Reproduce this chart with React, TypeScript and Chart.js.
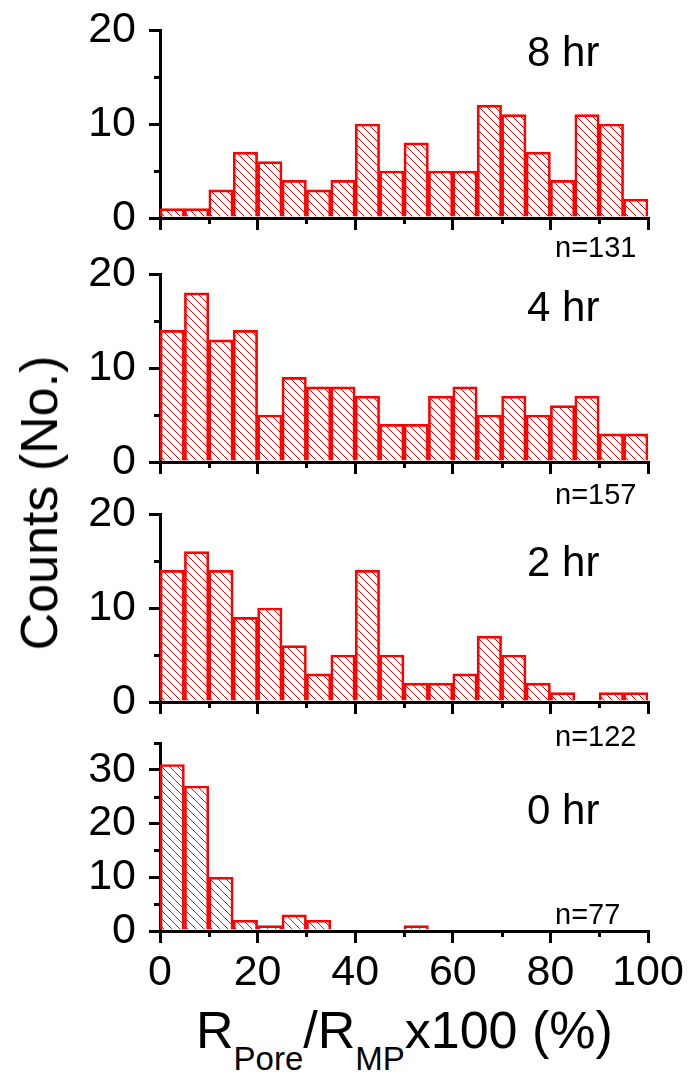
import React, { useEffect, useRef } from 'react';
import { Chart, registerables } from 'chart.js';

Chart.register(...registerables);

// ---- Data ----
const binCenters = [2.5, 7.5, 12.5, 17.5, 22.5, 27.5, 32.5, 37.5, 42.5, 47.5, 52.5, 57.5, 62.5, 67.5, 72.5, 77.5, 82.5, 87.5, 92.5, 97.5];
const counts8hr = [1, 1, 3, 7, 6, 4, 3, 4, 10, 5, 8, 5, 5, 12, 11, 7, 4, 11, 10, 2];
const counts4hr = [14, 18, 13, 14, 5, 9, 8, 8, 7, 4, 4, 7, 8, 5, 7, 5, 6, 7, 3, 3];
const counts2hr = [14, 16, 14, 9, 10, 6, 3, 5, 14, 5, 2, 2, 3, 7, 5, 2, 1, 0, 1, 1];
const counts0hr = [31, 27, 10, 2, 1, 3, 2, 0, 0, 0, 1, 0, 0, 0, 0, 0, 0, 0, 0, 0];

const xMajorTicks = [0, 20, 40, 60, 80, 100];
const xMinorTicks = [10, 30, 50, 70, 90];
const yMajorTicks20 = [0, 10, 20];
const yMinorTicks20 = [5, 15];
const yMajorTicks35 = [0, 10, 20, 30];
const yMinorTicks35 = [5, 15, 25, 35];

const panelLabels = ['8 hr', '4 hr', '2 hr', '0 hr'];
const sampleSizes = ['n=131', 'n=157', 'n=122', 'n=77'];
const yAxisTitle = 'Counts (No.)';

const FONT = "'Liberation Sans', Arial, Helvetica, sans-serif";
const RED = '#ff0000';

let hatchTile: HTMLCanvasElement | null = null;
function getHatchTile(): HTMLCanvasElement {
  if (hatchTile) return hatchTile;
  const s = 8;
  const c = document.createElement('canvas');
  c.width = s;
  c.height = s;
  const g = c.getContext('2d');
  if (g) {
    g.fillStyle = RED;
    for (let i = 0; i < s; i++) g.fillRect(i, i, 1, 1);
  }
  hatchTile = c;
  return c;
}

const minorTicksPlugin = {
  id: 'minorTicks',
  afterDraw(chart: any, _args: any, opts: any) {
    const ctx = chart.ctx;
    const xs = chart.scales.x;
    const ys = chart.scales.y;
    const area = chart.chartArea;
    ctx.save();
    ctx.strokeStyle = '#000';
    ctx.lineWidth = 3;
    ctx.beginPath();
    for (const v of opts.yMinor || []) {
      const py = Math.round(ys.getPixelForValue(v)) + 0.5;
      ctx.moveTo(area.left - 6, py);
      ctx.lineTo(area.left, py);
    }
    for (const v of opts.xMinor || []) {
      const px = Math.round(xs.getPixelForValue(v)) + 0.5;
      ctx.moveTo(px, area.bottom);
      ctx.lineTo(px, area.bottom + 6);
    }
    ctx.stroke();
    ctx.restore();
  },
};

type PanelProps = {
  values: number[];
  yMax: number;
  yMajor: number[];
  yMinor: number[];
  showXLabels: boolean;
  top: number;
  height: number;
  padTop: number;
  xHeight: number;
};

function Panel(p: PanelProps) {
  const ref = useRef<HTMLCanvasElement | null>(null);
  useEffect(() => {
    const canvas = ref.current;
    if (!canvas) return;
    const ctx = canvas.getContext('2d');
    const hatch = (ctx && ctx.createPattern(getHatchTile(), 'repeat')) || RED;
    const chart = new Chart(canvas, {
      type: 'bar',
      data: {
        datasets: [
          {
            data: binCenters.map((x, i) => ({ x, y: p.values[i] })),
            backgroundColor: hatch as any,
            hoverBackgroundColor: hatch as any,
            borderColor: RED,
            hoverBorderColor: RED,
            borderWidth: 2,
            borderSkipped: 'start',
            barPercentage: 1,
            categoryPercentage: 1,
          } as any,
        ],
      },
      options: {
        animation: false,
        responsive: false,
        maintainAspectRatio: false,
        events: [],
        layout: { padding: { top: p.padTop, left: 0, right: 41, bottom: 0 } },
        plugins: {
          legend: { display: false },
          tooltip: { enabled: false },
          minorTicks: { xMinor: xMinorTicks, yMinor: p.yMinor },
        } as any,
        scales: {
          x: {
            type: 'linear',
            min: 0,
            max: 100,
            offset: false,
            z: 1,
            afterBuildTicks: (s: any) => {
              s.ticks = xMajorTicks.map((v) => ({ value: v }));
            },
            afterFit: (s: any) => {
              s.height = p.xHeight;
            },
            grid: {
              display: true,
              drawOnChartArea: false,
              drawTicks: true,
              tickLength: 12,
              lineWidth: 3,
              color: '#000',
              offset: false,
            },
            border: { display: true, width: 3, color: '#000' },
            ticks: {
              display: p.showXLabels,
              color: '#000',
              font: { family: FONT, size: 43 },
              padding: 4,
              maxRotation: 0,
              autoSkip: false,
            },
          },
          y: {
            type: 'linear',
            min: 0,
            max: p.yMax,
            z: 1,
            afterBuildTicks: (s: any) => {
              s.ticks = p.yMajor.map((v) => ({ value: v }));
            },
            afterFit: (s: any) => {
              s.width = 160;
            },
            grid: {
              display: true,
              drawOnChartArea: false,
              drawTicks: true,
              tickLength: 11,
              lineWidth: 3,
              color: '#000',
            },
            border: { display: true, width: 3, color: '#000' },
            ticks: {
              color: '#000',
              font: { family: FONT, size: 43 },
              padding: 13,
              autoSkip: false,
            },
          },
        } as any,
      },
      plugins: [minorTicksPlugin as any],
    });
    let alive = true;
    const raf = requestAnimationFrame(() => {
      if (alive) chart.draw();
    });
    const t = setTimeout(() => {
      if (alive) chart.draw();
    }, 30);
    return () => {
      alive = false;
      cancelAnimationFrame(raf);
      clearTimeout(t);
      chart.destroy();
    };
  }, []);
  return (
    <canvas
      ref={ref}
      width={689}
      height={p.height}
      style={{ position: 'absolute', left: 0, top: p.top, display: 'block' }}
    />
  );
}

const textBase: React.CSSProperties = {
  position: 'absolute',
  fontFamily: FONT,
  color: '#000',
  lineHeight: 1,
  whiteSpace: 'nowrap',
  margin: 0,
};

function topFromBaseline(baseline: number, size: number) {
  return baseline - 0.8465 * size;
}

export default function App() {
  // chart-area tops: 30, 274, 514, 743 ; zero lines: 218, 462, 702, 931
  const panels = [
    { values: counts8hr, yMax: 20, yMajor: yMajorTicks20, yMinor: yMinorTicks20, showXLabels: false, top: -20, height: 288, padTop: 50, xHeight: 50 },
    { values: counts4hr, yMax: 20, yMajor: yMajorTicks20, yMinor: yMinorTicks20, showXLabels: false, top: 224, height: 288, padTop: 50, xHeight: 50 },
    { values: counts2hr, yMax: 20, yMajor: yMajorTicks20, yMinor: yMinorTicks20, showXLabels: false, top: 464, height: 288, padTop: 50, xHeight: 50 },
    { values: counts0hr, yMax: 35, yMajor: yMajorTicks35, yMinor: yMinorTicks35, showXLabels: true, top: 693, height: 307, padTop: 50, xHeight: 69 },
  ];
  const labelBaselines = [67, 322, 577, 825];
  const nBaselines = [258, 505, 747, 925];
  return (
    <div
      style={{
        position: 'absolute',
        left: 0,
        top: 0,
        width: 689,
        height: 1075,
        overflow: 'hidden',
        background: '#fff',
      }}
    >
      {panels.map((p, i) => (
        <Panel key={i} {...p} />
      ))}
      {panelLabels.map((t, i) => (
        <div key={'l' + i} style={{ ...textBase, fontSize: 42, left: 527, top: topFromBaseline(labelBaselines[i], 42) }}>
          {t}
        </div>
      ))}
      {sampleSizes.map((t, i) => (
        <div key={'n' + i} style={{ ...textBase, fontSize: 29, left: 555, top: topFromBaseline(nBaselines[i], 29) }}>
          {t}
        </div>
      ))}
      <div
        style={{
          ...textBase,
          fontSize: 52,
          left: 39,
          top: 503,
          transform: 'translate(-50%, -50%) rotate(-90deg)',
        }}
      >
        {yAxisTitle}
      </div>
      <div style={{ ...textBase, fontSize: 52, left: 196, top: topFromBaseline(1048, 52) }}>
        R<span style={{ fontSize: 33, position: 'relative', top: 22, lineHeight: 1 }}>Pore</span>/R
        <span style={{ fontSize: 33, position: 'relative', top: 22, lineHeight: 1 }}>MP</span>x100 (%)
      </div>
    </div>
  );
}
